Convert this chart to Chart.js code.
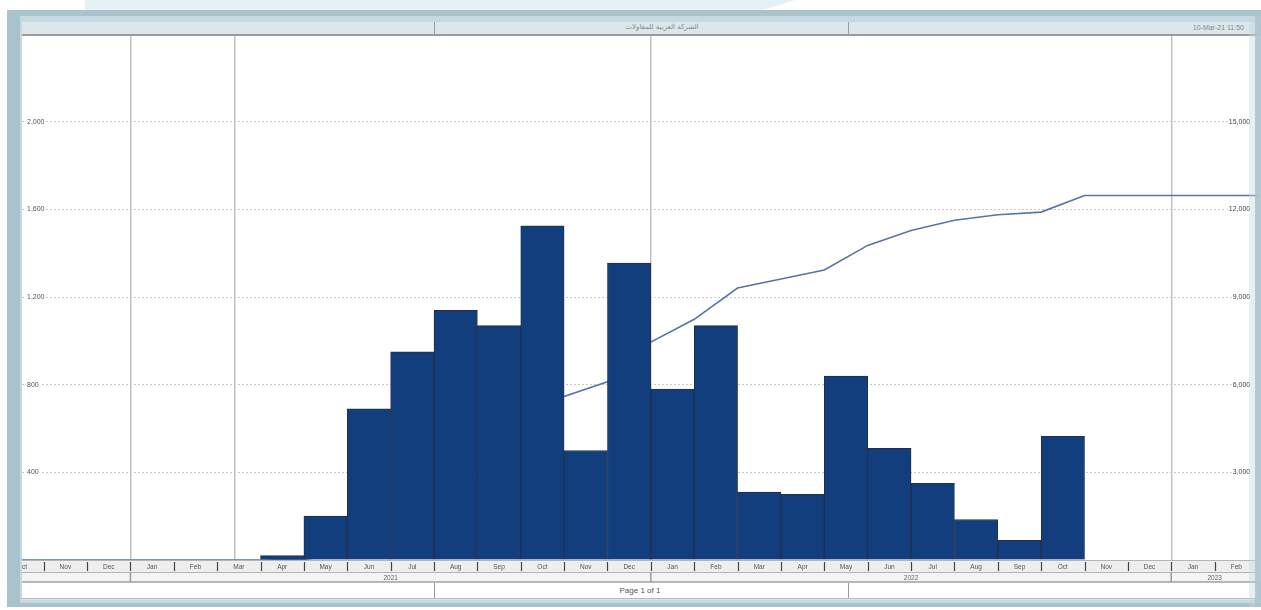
<!DOCTYPE html>
<html>
<head>
<meta charset="utf-8">
<script src="https://cdn.jsdelivr.net/npm/chart.js@4/dist/chart.umd.min.js"></script>
<style>
  html, body { margin: 0; padding: 0; background: #fff; overflow: hidden; }
  body { width: 1261px; height: 610px; position: relative; font-family: "Liberation Sans", Arial, sans-serif; }
  .deco { position: absolute; left: 85px; top: 0; width: 710px; height: 11px; background: #e4f2f5;
          clip-path: polygon(0 0, 100% 0, 95% 100%, 0 100%); }
  .frame { position: absolute; left: 7px; top: 10px; width: 1262px; height: 597px; background: #a9c3cd; }
  .band { position: absolute; left: 20px; top: 16px; width: 1250px; height: 587px; background: #c6d9e0; }
  .paper { position: absolute; left: 22px; top: 22px; width: 1236px; height: 578px; background: #dbe7ec; }
  .plotbg { position: absolute; left: 22px; top: 35px; width: 1240px; height: 547px; background: #fff; }
  .head { position: absolute; left: 22px; top: 22px; width: 1236px; height: 12px; background: #dbe7ec;
          border-bottom: 2px solid #9c9c9c; font-size: 7px; color: #888; }
  .head .sep { position: absolute; top: 0; width: 1px; height: 12px; background: #9a9a9a; }
  .head .title { position: absolute; left: 560px; width: 160px; top: 1px; text-align: center;
                 font-family: "DejaVu Sans", sans-serif; font-size: 7px; }
  .head .date { position: absolute; right: 14px; top: 2px; }
  #wrap { position: absolute; left: 12px; top: 25px; width: 1246px; height: 557px; }
  .foot { position: absolute; left: 22px; top: 582px; width: 1236px; height: 15px; background: #fff;
          border-top: 1px solid #b8b8b8; border-bottom: 1px solid #b8b8b8; font-size: 8px; color: #555; }
  .foot .sep { position: absolute; top: 0; width: 1px; height: 15px; background: #9a9a9a; }
  .foot .page { position: absolute; left: 0; width: 100%; top: 3px; text-align: center; }
  .rside { position: absolute; left: 1249px; top: 22px; width: 12px; height: 585px; background: rgba(196,216,224,0.4); }
  .rside2 { position: absolute; left: 1255px; top: 10px; width: 6px; height: 597px; background: rgba(169,195,205,0.85); }
</style>
</head>
<body>
<div class="deco"></div>
<div class="frame"></div>
<div class="band"></div>
<div class="paper"></div>
<div class="plotbg"></div>
<div id="wrap"><canvas id="hist" width="1246" height="557"></canvas></div>
<div class="head">
  <div class="sep" style="left:412px"></div>
  <div class="sep" style="left:826px"></div>
  <div class="title">الشركة العربية للمقاولات</div>
  <div class="date">10-Mar-21 11:50</div>
</div>
<div class="foot">
  <div class="sep" style="left:412px"></div>
  <div class="sep" style="left:826px"></div>
  <div class="page">Page 1 of 1</div>
</div>
<div class="rside"></div>
<div class="rside2"></div>
<script>
// month index 0 = Jan 2021
var monthLabels = ['Oct','Nov','Dec','Jan','Feb','Mar','Apr','May','Jun','Jul','Aug','Sep',
  'Oct','Nov','Dec','Jan','Feb','Mar','Apr','May','Jun','Jul','Aug','Sep','Oct','Nov','Dec','Jan','Feb'];
var firstMonth = -3;
var yearLabels = ['2021', '2022', '2023'];
var yearStarts = [0, 12, 24];
var dataDate = 2.4;

// monthly units, Apr 2021 .. Oct 2022
var barStart = 3;
var barValues = [20, 200, 690, 950, 1140, 1070, 1525, 500, 1355, 780, 1070, 310, 300, 840, 510, 350, 185, 90, 565];

// cumulative units at month ends, Mar 2021 end .. Oct 2022 end
var cumStart = 3;
var cumValues = [0, 20, 220, 910, 1860, 3000, 4070, 5600, 6100, 7460, 8240, 9310, 9620, 9930, 10770, 11280, 11630, 11820, 11910, 12480];

var xMin = -2.5, xMax = 26;

var bars = barValues.map(function(v, i){ return {x: barStart + i + 0.5, y: v}; });
var cum = [{x: xMin, y: 0}];
cumValues.forEach(function(v, i){ cum.push({x: cumStart + i, y: v}); });
cum.push({x: xMax, y: cumValues[cumValues.length - 1]});

var timeRows = {
  id: 'timeRows',
  afterDraw: function(chart){
    var ctx = chart.ctx, a = chart.chartArea, x = chart.scales.x;
    var mTop = a.bottom, mH = 12, yTop = a.bottom + 12, yH = 10;
    var w = a.right - a.left;
    ctx.save();
    ctx.beginPath();
    ctx.rect(a.left, mTop, w, mH + yH);
    ctx.clip();
    ctx.fillStyle = '#eeeeee';
    ctx.fillRect(a.left, mTop, w, mH);
    ctx.fillStyle = '#f4f4f4';
    ctx.fillRect(a.left, yTop, w, yH);
    ctx.strokeStyle = '#b5b5b5';
    ctx.lineWidth = 1;
    [mTop + 0.5, yTop + 0.5, yTop + yH - 0.5].forEach(function(yy){
      ctx.beginPath(); ctx.moveTo(a.left, yy); ctx.lineTo(a.right, yy); ctx.stroke();
    });
    ctx.font = '6.5px "Liberation Sans", Arial, sans-serif';
    ctx.textAlign = 'center';
    ctx.textBaseline = 'middle';
    monthLabels.forEach(function(lab, i){
      var v = firstMonth + i;
      var x0 = x.getPixelForValue(v), x1 = x.getPixelForValue(v + 1);
      ctx.strokeStyle = '#444';
      ctx.lineWidth = 1.2;
      ctx.beginPath(); ctx.moveTo(Math.round(x0) + 0.5, mTop + 2); ctx.lineTo(Math.round(x0) + 0.5, mTop + mH - 1); ctx.stroke();
      ctx.fillStyle = '#555';
      ctx.fillText(lab, (x0 + x1) / 2, mTop + mH / 2 + 1);
    });
    yearLabels.forEach(function(lab, i){
      var x0 = Math.max(a.left, x.getPixelForValue(yearStarts[i]));
      var x1 = Math.min(a.right, x.getPixelForValue(yearStarts[i] + 12));
      ctx.strokeStyle = '#9a9a9a';
      ctx.lineWidth = 1.5;
      ctx.beginPath(); ctx.moveTo(x0, yTop); ctx.lineTo(x0, yTop + yH); ctx.stroke();
      ctx.fillStyle = '#666';
      ctx.fillText(lab, (x0 + x1) / 2, yTop + yH / 2 + 1);
    });
    ctx.restore();
  }
};

var ctx = document.getElementById('hist');
var histChart = new Chart(ctx, {
  type: 'bar',
  data: {
    datasets: [{
      type: 'bar',
      label: 'Units',
      data: bars,
      xAxisID: 'x',
      yAxisID: 'y',
      backgroundColor: '#133e7e',
      borderColor: '#22304c',
      borderWidth: 1,
      barPercentage: 1,
      categoryPercentage: 1,
      order: 1
    }, {
      type: 'line',
      label: 'Cumulative',
      data: cum,
      xAxisID: 'x',
      yAxisID: 'y1',
      borderColor: '#5874a6',
      borderWidth: 1.6,
      pointRadius: 0,
      tension: 0,
      fill: false,
      order: 2
    }]
  },
  options: {
    responsive: false,
    animation: false,
    layout: { padding: { left: 0, right: 0, top: 0, bottom: 22 } },
    plugins: { legend: { display: false }, tooltip: { enabled: false } },
    scales: {
      x: {
        type: 'linear',
        min: xMin,
        max: xMax,
        offset: false,
        afterBuildTicks: function(axis){
          axis.ticks = [dataDate].concat(yearStarts).sort(function(p, q){ return p - q; })
            .map(function(v){ return {value: v}; });
        },
        ticks: { display: false },
        grid: { offset: false, color: '#c2c2c2', lineWidth: 1.5, drawTicks: false },
        border: { display: false }
      },
      y: {
        position: 'left',
        min: 0,
        max: 2400,
        ticks: {
          stepSize: 400,
          mirror: true,
          padding: 5,
          color: '#555',
          font: { size: 7, family: '"Liberation Sans", Arial, sans-serif' },
          showLabelBackdrop: true,
          backdropColor: '#ffffff',
          backdropPadding: 1,
          callback: function(v){ return (v === 0 || v === 2400) ? '' : v.toLocaleString('en-US'); }
        },
        grid: {
          drawTicks: false,
          color: function(c){ return (c.tick.value === 0 || c.tick.value === 2400) ? 'rgba(0,0,0,0)' : '#c8c8c8'; }
        },
        border: { display: false, dash: [2, 2] }
      },
      y1: {
        position: 'right',
        min: 0,
        max: 18000,
        ticks: {
          stepSize: 3000,
          mirror: true,
          padding: 0,
          color: '#444',
          font: { size: 7, family: '"Liberation Sans", Arial, sans-serif' },
          showLabelBackdrop: true,
          backdropColor: '#ffffff',
          backdropPadding: 1,
          callback: function(v){ return (v === 0 || v === 18000) ? '' : v.toLocaleString('en-US') + '\u00a0\u00a0\u00a0\u00a0'; }
        },
        grid: { display: false, drawTicks: false },
        border: { display: false }
      }
    }
  },
  plugins: [timeRows]
});
</script>
</body>
</html>
